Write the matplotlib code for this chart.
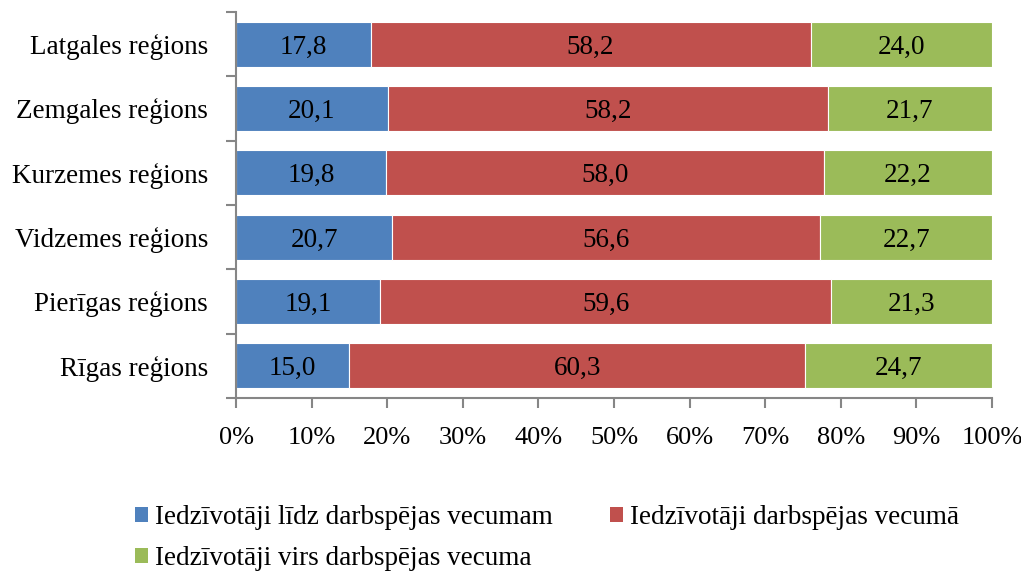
import matplotlib.pyplot as plt
from matplotlib.patches import Patch

regions = ["Rīgas reģions", "Pierīgas reģions", "Vidzemes reģions",
           "Kurzemes reģions", "Zemgales reģions", "Latgales reģions"]
below = [15.0, 19.1, 20.7, 19.8, 20.1, 17.8]
working = [60.3, 59.6, 56.6, 58.0, 58.2, 58.2]
above = [24.7, 21.3, 22.7, 22.2, 21.7, 24.0]
series_names = ["Iedzīvotāji līdz darbspējas vecumam",
                "Iedzīvotāji darbspējas vecumā",
                "Iedzīvotāji virs darbspējas vecuma"]
colors = ["#4F81BD", "#C0504D", "#9BBB59"]

plt.rcParams["font.family"] = ["Liberation Serif", "DejaVu Serif"]
FS = 19.5

fig = plt.figure(figsize=(10.21, 5.76), dpi=100)
ax = fig.add_axes([236 / 1021, 1 - 398 / 576, (992 - 236) / 1021, (398 - 12) / 576])

y = range(len(regions))
left = [0] * len(regions)
for vals, col in zip([below, working, above], colors):
    bars = ax.barh(y, vals, left=left, height=0.7, color=col,
                   edgecolor="white", linewidth=0.8)
    for b, v in zip(bars, vals):
        ax.text(b.get_x() + b.get_width() / 2, b.get_y() + b.get_height() / 2,
                f"{v:.1f}".replace(".", ","), ha="center", va="center_baseline",
                fontsize=FS, color="black")
    left = [l + v for l, v in zip(left, vals)]

ax.set_xlim(0, 100)
ax.set_ylim(-0.5, len(regions) - 0.5)
ax.set_xticks(range(0, 101, 10))
ax.set_xticklabels([f"{t}%" for t in range(0, 101, 10)], fontsize=19)
ax.set_yticks(list(y))
ax.set_yticklabels(regions, fontsize=FS)
ax.set_yticks([i - 0.5 for i in range(len(regions) + 1)], minor=True)

for s in ["top", "right"]:
    ax.spines[s].set_visible(False)
for s in ["left", "bottom"]:
    ax.spines[s].set_color("#868686")
    ax.spines[s].set_linewidth(1.5)

ax.tick_params(axis="y", which="major", length=0, pad=20)
ax.tick_params(axis="y", which="minor", length=7, width=1.5, color="#868686")
ax.tick_params(axis="x", length=7, width=1.5, color="#868686", pad=14)

# column-major fill: order so that row 1 = blue, red; row 2 = green
order = [0, 2, 1]
handles = [Patch(facecolor=colors[i], edgecolor="none") for i in order]
labels = [series_names[i] for i in order]
fig.legend(handles, labels, loc="upper left", bbox_to_anchor=(124 / 1021, 1 - 494 / 576),
           ncol=2, frameon=False, fontsize=19.5, handlelength=0.5, handleheight=0.5,
           handletextpad=0.25, columnspacing=2.1, labelspacing=0.6, borderaxespad=0)

fig.savefig("out.png", dpi=100)
